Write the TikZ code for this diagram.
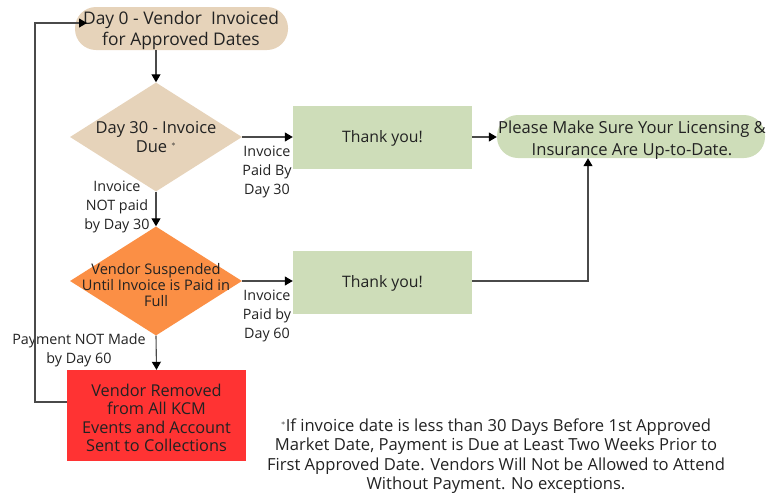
\documentclass[tikz,border=0pt]{standalone}
\usepackage{fontspec}
\setmainfont{Open Sans}
\usetikzlibrary{shapes.geometric,arrows.meta}
\definecolor{tan}{HTML}{E6D3BA}
\definecolor{sage}{HTML}{CEDDB9}
\definecolor{orng}{HTML}{FB8F45}
\definecolor{redbox}{HTML}{FF3333}
\definecolor{linegray}{HTML}{4A4A4A}
\definecolor{txt}{HTML}{222222}
\newcommand{\fs}[2]{\fontsize{#1}{#2}\selectfont}
\begin{document}
\begin{tikzpicture}[x=1pt,y=-1pt,
  every node/.style={text=txt, font=\fs{16}{19}},
  pill/.style={rectangle, rounded corners=21pt, inner sep=0pt, align=center},
  dia/.style={diamond, fill=tan, inner sep=0pt, minimum width=172pt, minimum height=109pt},
  boxg/.style={rectangle, fill=sage, inner sep=0pt, minimum width=179pt, minimum height=63pt, text height=11.3pt, text depth=0pt},
  lbl/.style={align=center, inner sep=0pt, font=\fs{14.3}{19}},
  conn/.style={draw=linegray, line width=1.1pt, -{Triangle[length=8pt,width=9pt,color=black]}},
]
\useasboundingbox (0,0) rectangle (774,493);
% top pill
\node[pill, fill=tan, minimum width=213pt, minimum height=43pt, font=\fs{17.6}{21}] (start) at (181.5,28.5) {};
\node[align=center, inner sep=0pt, font=\fs{17.4}{21}] (startt) at (181,30) {Day 0 - Vendor\ \ Invoiced\\for Approved Dates};
% diamond 1
\node[dia] (d1) at (156,137) {};
\node[align=center, inner sep=0pt, font=\fs{16.5}{19}] (d1t) at (156,137.5) {Day 30 - Invoice\\Due $^{\scriptscriptstyle\ast}$};
% diamond 2
\node[dia, fill=orng] (d2) at (156,281) {};
\node[align=center, inner sep=0pt, font=\fs{14.6}{16}] (d2t) at (156,285) {Vendor Suspended\\Until Invoice is Paid in\\Full};
% thank you boxes
\node[boxg, font=\fs{15.8}{19}] (t1) at (382.5,137) {Thank you!};
\node[boxg, font=\fs{15.8}{19}] (t2) at (382.5,282) {Thank you!};
% pill 2
\node[pill, fill=sage, minimum width=268pt, minimum height=43pt] (lic) at (631,136.5) {};
\node[align=center, inner sep=0pt, font=\fs{16.6}{22.5}] (lict) at (632,140) {Please Make Sure Your Licensing \&\\Insurance Are Up-to-Date.};
% red box
\node[rectangle, fill=redbox, inner sep=0pt, minimum width=179pt, minimum height=91pt] (rm) at (156.5,415.5) {};
\node[align=center, inner sep=0pt, font=\fs{16.3}{18.5}] (rmt) at (156.5,418) {Vendor Removed\\from All KCM\\Events and Account\\Sent to Collections};
% labels
\node[lbl] (l1) at (267,172) {Invoice\\Paid By\\Day 30};
\node[lbl] (l2) at (117,207) {Invoice\\NOT paid\\by Day 30};
\node[lbl] (l3) at (267,316) {Invoice\\Paid by\\Day 60};
\node[lbl] (l4) at (79,350) {Payment NOT Made\\by Day 60};
% footnote
\node[align=center, inner sep=0pt, font=\fs{16.6}{19.3}] (fn) at (496,456) {$^{\scriptscriptstyle\ast}$If invoice date is less than 30 Days Before 1st Approved\\Market Date, Payment is Due at Least Two Weeks Prior to\\First Approved Date. Vendors Will Not be Allowed to Attend\\Without Payment. No exceptions.};
% connectors
\coordinate (loopin) at (87,23);
\draw[conn] (start.south -| d1.north) -- (d1.north);
\draw[conn] (d1.east) -- (t1.west);
\draw[conn] (t1.east) -- (t1.east -| lic.west);
\draw[conn] (d1.south) -- (d2.north);
\draw[conn] (d2.east) -- (d2.east -| t2.west);
\draw[conn] (d2.east -| t2.east) -- (588,281) -- (lic.south -| 588,0);
\draw[conn] (d2.south) -- (rm.north);
\draw[conn] (rm.west |- 0,402) -- (35,402) -- (35,23) -- (loopin);
\end{tikzpicture}
\end{document}
